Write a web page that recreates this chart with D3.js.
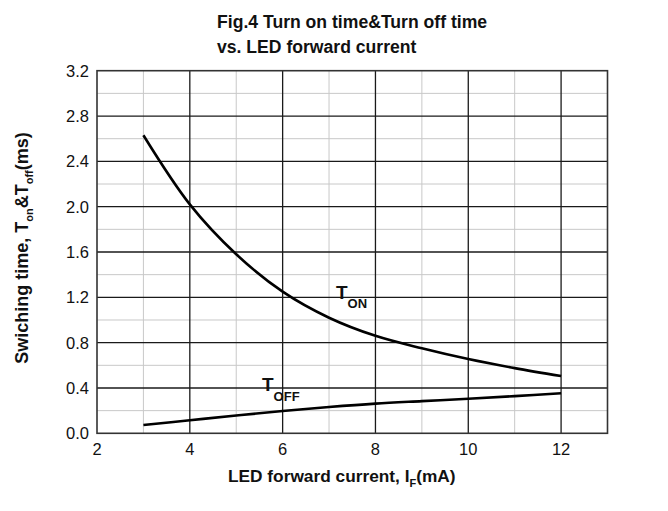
<!DOCTYPE html>
<html>
<head>
<meta charset="utf-8">
<script src="https://cdn.jsdelivr.net/npm/d3@7"></script>
<style>
  body { margin: 0; background: #fff; }
  text { font-family: Arial, "Liberation Sans", sans-serif; fill: #111; }
</style>
</head>
<body>
<svg></svg>
<script>
let width = 668;
let height = 511;

// data
const current = [3, 4, 5, 6, 7, 8, 9, 10, 11, 12];
const tOn = [2.63, 2.02, 1.58, 1.25, 1.02, 0.86, 0.75, 0.655, 0.575, 0.505];
const tOff = [0.073, 0.115, 0.157, 0.197, 0.232, 0.262, 0.284, 0.305, 0.328, 0.353];
const xTicks = [2, 4, 6, 8, 10, 12];
const yTicks = [0, 0.4, 0.8, 1.2, 1.6, 2.0, 2.4, 2.8, 3.2];

const x = d3.scaleLinear().domain([2, 13]).range([97, 607.5]);
const y = d3.scaleLinear().domain([0, 3.2]).range([433.3, 70.7]);

const svg = d3.select("svg")
  .attr("width", width)
  .attr("height", height);

// minor grid
svg.append("g")
  .attr("stroke", "#c8c8c8")
  .attr("stroke-width", 1)
  .selectAll("line")
  .data(d3.range(3, 13, 2))
  .join("line")
  .attr("x1", d => x(d)).attr("x2", d => x(d))
  .attr("y1", y(0)).attr("y2", y(3.2));

svg.append("g")
  .attr("stroke", "#c8c8c8")
  .attr("stroke-width", 1)
  .selectAll("line")
  .data(d3.range(0.2, 3.2, 0.4))
  .join("line")
  .attr("x1", x(2)).attr("x2", x(13))
  .attr("y1", d => y(d)).attr("y2", d => y(d));

// major grid
svg.append("g")
  .attr("stroke", "#1a1a1a")
  .attr("stroke-width", 1.3)
  .selectAll("line")
  .data(xTicks.slice(1))
  .join("line")
  .attr("x1", d => x(d)).attr("x2", d => x(d))
  .attr("y1", y(0)).attr("y2", y(3.2));

svg.append("g")
  .attr("stroke", "#1a1a1a")
  .attr("stroke-width", 1.3)
  .selectAll("line")
  .data(yTicks.slice(1, -1))
  .join("line")
  .attr("x1", x(2)).attr("x2", x(13))
  .attr("y1", d => y(d)).attr("y2", d => y(d));

// frame
svg.append("rect")
  .attr("x", x(2)).attr("y", y(3.2))
  .attr("width", x(13) - x(2)).attr("height", y(0) - y(3.2))
  .attr("fill", "none")
  .attr("stroke", "#333")
  .attr("stroke-width", 1.6);

// tick labels
svg.append("g")
  .selectAll("text")
  .data(yTicks)
  .join("text")
  .attr("x", 89)
  .attr("y", d => y(d))
  .attr("dy", "0.36em")
  .attr("text-anchor", "end")
  .style("font-size", "16.5px")
  .text(d => d.toFixed(1));

svg.append("g")
  .selectAll("text")
  .data(xTicks)
  .join("text")
  .attr("x", d => x(d))
  .attr("y", 455)
  .attr("text-anchor", "middle")
  .style("font-size", "16.5px")
  .text(d => d);

// curves
const line = d3.line()
  .x((d, i) => x(current[i]))
  .y(d => y(d))
  .curve(d3.curveCatmullRom);

svg.append("path")
  .datum(tOn)
  .attr("d", line)
  .attr("fill", "none")
  .attr("stroke", "#000")
  .attr("stroke-width", 2.6);

svg.append("path")
  .datum(tOff)
  .attr("d", line)
  .attr("fill", "none")
  .attr("stroke", "#000")
  .attr("stroke-width", 2.6);

// curve labels
const onLab = svg.append("text").attr("x", 336).attr("y", 299)
  .style("font-size", "19px").style("font-weight", "bold");
onLab.append("tspan").text("T");
onLab.append("tspan").attr("dy", 9).style("font-size", "13px").text("ON");

const offLab = svg.append("text").attr("x", 262).attr("y", 391)
  .style("font-size", "19px").style("font-weight", "bold");
offLab.append("tspan").text("T");
offLab.append("tspan").attr("dy", 10).style("font-size", "13px").text("OFF");

// title
svg.append("text").attr("x", 217).attr("y", 28)
  .style("font-size", "17.6px").style("font-weight", "bold")
  .text("Fig.4 Turn on time&Turn off time");
svg.append("text").attr("x", 217).attr("y", 53)
  .style("font-size", "17.6px").style("font-weight", "bold")
  .text("vs. LED forward current");

// x axis label
const xl = svg.append("text").attr("x", 228).attr("y", 482)
  .style("font-size", "17.3px").style("font-weight", "bold");
xl.append("tspan").text("LED forward current, I");
xl.append("tspan").attr("dy", 5).style("font-size", "11px").text("F");
xl.append("tspan").attr("dy", -5).text("(mA)");

// y axis label
const yl = svg.append("text")
  .attr("transform", "translate(28,248) rotate(-90)")
  .attr("text-anchor", "middle")
  .style("font-size", "18px").style("font-weight", "bold");
yl.append("tspan").text("Swiching time, T");
yl.append("tspan").attr("dy", 5).style("font-size", "11px").text("on");
yl.append("tspan").attr("dy", -5).text("&T");
yl.append("tspan").attr("dy", 5).style("font-size", "11px").text("off");
yl.append("tspan").attr("dy", -5).text("(ms)");
</script>
</body>
</html>
